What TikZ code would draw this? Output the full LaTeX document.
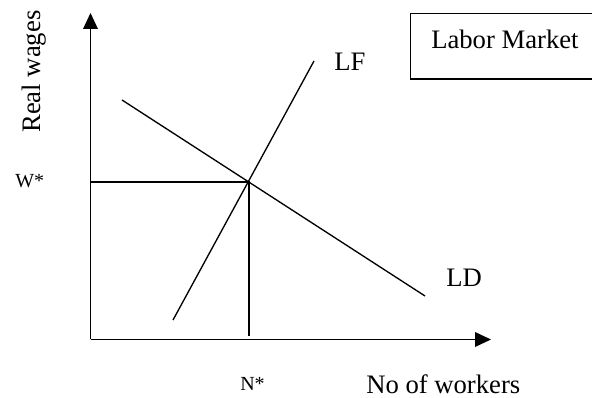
\documentclass[tikz,border=0pt]{standalone}
\usepackage{fontspec}
\setmainfont{Liberation Serif}
\usetikzlibrary{arrows.meta}
\begin{document}
\begin{tikzpicture}[x=0.75pt,y=-0.75pt,
  ln/.style={line width=1pt,line cap=butt},
  axis/.style={line width=1.1pt,-{Triangle[length=12pt,width=11pt]}},
  big/.style={font=\fontsize{20}{24}\selectfont,inner sep=0pt},
  small/.style={font=\fontsize{15}{18}\selectfont,inner sep=0pt}]
\useasboundingbox (0,0) rectangle (592,398);
% coordinates
\coordinate (O) at (90.5,339.5);
\coordinate (Ytip) at (90.5,13);
\coordinate (Xtip) at (491,339.5);
\coordinate (EQ) at (249,182);
\coordinate (Wax) at (90.5,182);
\coordinate (Nbot) at (249,336);
\coordinate (LFa) at (173,320);
\coordinate (LFb) at (314,61);
\coordinate (LDa) at (122,100);
\coordinate (LDb) at (425,296);
% axes
\draw[axis] (O) -- (Ytip);
\draw[axis] (O) -- (Xtip);
% curves
\draw[ln] (LFa) -- (LFb);
\draw[ln] (LDa) -- (LDb);
\draw[ln] (Wax) -- (EQ) -- (Nbot);
% labels
\node[big,rotate=90,anchor=base west] (yl) at (40,133) {Real wages};
\node[small,anchor=base west] (w) at (15,188) {W*};
\node[small,anchor=base west] (n) at (240,391) {N*};
\node[big,anchor=base west] (xl) at (366,394) {No of workers};
\node[big,anchor=base west] (lf) at (334,71) {LF};
\node[big,anchor=base west] (ld) at (446,287) {LD};
\draw[line width=1pt] (594,13.5) -- (410.5,13.5) -- (410.5,79) -- (594,79);
\node[big,anchor=base west] (title) at (431,49) {Labor Market};
\end{tikzpicture}
\end{document}
